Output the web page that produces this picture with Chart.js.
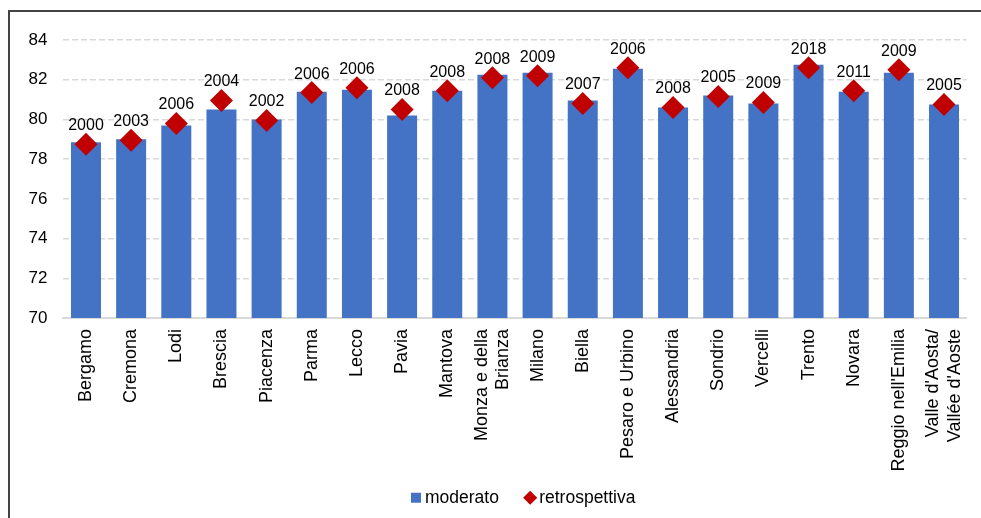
<!DOCTYPE html>
<html>
<head>
<meta charset="utf-8">
<script src="https://cdn.jsdelivr.net/npm/chart.js@4.4.1/dist/chart.umd.min.js"></script>
<style>
  html, body { margin: 0; padding: 0; background: #fff; overflow: hidden; }
  #wrap { position: relative; width: 981px; height: 518px; }
  #wrap canvas { position: absolute; left: 0; top: 0; }
  #frame {
    position: absolute; left: 8px; top: 10px; right: -4px; bottom: -4px;
    border-top: 2px solid #444; border-left: 2px solid #444;
    pointer-events: none;
  }
</style>
</head>
<body>
<div id="wrap">
  <canvas id="chart" width="981" height="518"></canvas>
  <div id="frame"></div>
</div>
<script>
// Provinces on the category axis
const provinces = [
  'Bergamo', 'Cremona', 'Lodi', 'Brescia', 'Piacenza', 'Parma', 'Lecco', 'Pavia',
  'Mantova', ['Monza e della', 'Brianza'], 'Milano', 'Biella', 'Pesaro e Urbino',
  'Alessandria', 'Sondrio', 'Vercelli', 'Trento', 'Novara', "Reggio nell'Emilia",
  ["Valle d'Aosta/", "Vallée d'Aoste"]
];

// Bars: "moderato" scenario
const moderato = [
  78.85, 79.0, 79.7, 80.5, 80.0, 81.4, 81.5, 80.2, 81.45, 82.25,
  82.35, 80.95, 82.55, 80.6, 81.2, 80.8, 82.75, 81.4, 82.35, 80.75
];

// Diamonds: "retrospettiva" values
const retrospettiva = [
  78.75, 78.95, 79.8, 80.95, 79.95, 81.35, 81.6, 80.5, 81.45, 82.1,
  82.2, 80.8, 82.6, 80.6, 81.15, 80.85, 82.6, 81.45, 82.5, 80.75
];

// Year written above each diamond
const years = [
  2000, 2003, 2006, 2004, 2002, 2006, 2006, 2008, 2008, 2008,
  2009, 2007, 2006, 2008, 2005, 2009, 2018, 2011, 2009, 2005
];

// Value axis
const yMin = 70;
const yMax = 84;
const yStep = 2;

const FONT = '"Liberation Sans", Arial, Helvetica, sans-serif';
Chart.defaults.font.family = FONT;
Chart.defaults.color = '#000';

// Writes the year above each diamond
const yearLabels = {
  id: 'yearLabels',
  afterDatasetsDraw(chart) {
    const meta = chart.getDatasetMeta(1);
    const ctx = chart.ctx;
    ctx.save();
    ctx.font = '16px ' + FONT;
    ctx.fillStyle = '#000';
    ctx.textAlign = 'center';
    ctx.textBaseline = 'middle';
    meta.data.forEach((pt, i) => {
      ctx.fillText(String(years[i]), pt.x, pt.y - 18.5);
    });
    ctx.restore();
  }
};

// Centres two-line category labels on their tick
const centreWrappedLabels = {
  id: 'centreWrappedLabels',
  beforeDraw(chart) {
    chart.scales.x.getLabelItems().forEach(item => {
      if (Array.isArray(item.label)) {
        if (item._baseOffset === undefined) item._baseOffset = item.textOffset;
        item.textOffset = item._baseOffset - (item.label.length - 1) * item.font.lineHeight / 2;
      }
    });
  }
};

// Places the legend row: a touch right of centre and up under the axis labels
const legendNudge = {
  id: 'legendNudge',
  afterLayout(chart) {
    const lg = chart.legend;
    if (!lg) return;
    lg.left += 10.6; lg.right += 10.6;
    lg.top -= 17;
  }
};

new Chart(document.getElementById('chart'), {
  data: {
    labels: provinces,
    datasets: [
      {
        type: 'bar',
        label: 'moderato',
        data: moderato,
        backgroundColor: '#4472C4',
        borderWidth: 0,
        pointStyle: 'rect',
        categoryPercentage: 1,
        barPercentage: 0.664,
        order: 1
      },
      {
        type: 'line',
        label: 'retrospettiva',
        data: retrospettiva,
        showLine: false,
        pointStyle: 'rectRot',
        pointRadius: 11.5,
        pointHoverRadius: 11.5,
        pointBackgroundColor: '#C00000',
        pointBorderWidth: 0,
        backgroundColor: '#C00000',
        borderColor: '#C00000',
        order: 0
      }
    ]
  },
  options: {
    responsive: false,
    animation: false,
    devicePixelRatio: 1,
    layout: { padding: { top: 40, right: 14.4, bottom: 2, left: 0 } },
    scales: {
      x: {
        grid: { display: false, drawTicks: false },
        border: { display: true, color: '#d9d9d9', width: 2 },
        ticks: {
          autoSkip: false,
          minRotation: 90,
          maxRotation: 90,
          padding: 11,
          color: '#000',
          font: { size: 18 }
        },
        afterFit(scale) {
          scale.height = 157;
          scale.paddingLeft = 0;
          scale.paddingRight = 0;
        }
      },
      y: {
        min: yMin,
        max: yMax,
        ticks: { stepSize: yStep, padding: 16, color: '#000', font: { size: 17 } },
        grid: { color: '#d9d9d9', lineWidth: 1.5, drawTicks: false },
        border: { display: false, dash: [6, 3] },
        afterFit(scale) { scale.width = 63.4; }
      }
    },
    plugins: {
      tooltip: { enabled: false },
      legend: {
        position: 'bottom',
        fullSize: false,
        maxHeight: 41,
        labels: {
          usePointStyle: true,
          boxWidth: 0.5,
          boxHeight: 10,
          padding: 31,
          color: '#000',
          font: { size: 17.5 },
          sort: (a, b) => a.datasetIndex - b.datasetIndex
        }
      }
    }
  },
  plugins: [yearLabels, centreWrappedLabels, legendNudge]
});
</script>
</body>
</html>
